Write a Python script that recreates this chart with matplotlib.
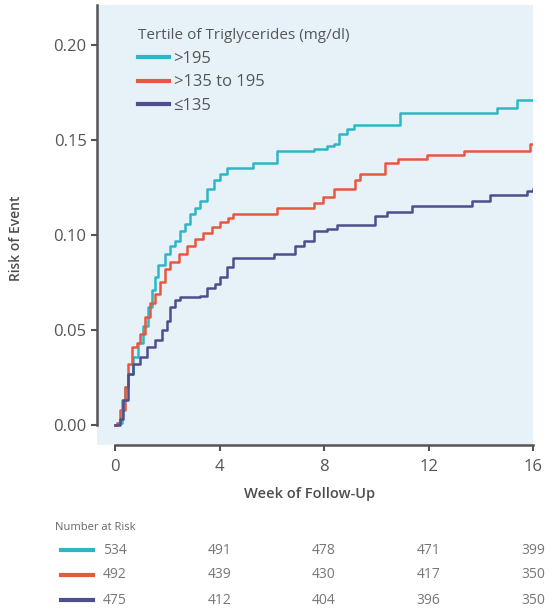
import numpy as np
import matplotlib
matplotlib.use("Agg")
import matplotlib.pyplot as plt
from matplotlib.transforms import blended_transform_factory


# Courbes de risque cumulé (pas), semaines / risque
weeks_high = [0, 0.07, 0.26, 0.38, 0.51, 0.70, 0.89, 1.09, 1.28, 1.40, 1.53, 1.66, 1.92,
              2.11, 2.30, 2.49, 2.68, 2.87, 3.07, 3.26, 3.51, 3.77, 4.02, 4.28, 5.3, 6.2,
              7.6, 8.1, 8.37, 8.56, 8.88, 9.13, 10.92, 14.62, 15.4, 16.0]
risk_high = [0.0, 0.001, 0.013, 0.020, 0.027, 0.036, 0.043, 0.052, 0.062, 0.071, 0.078,
             0.084, 0.090, 0.094, 0.097, 0.102, 0.106, 0.111, 0.114, 0.118, 0.124, 0.129,
             0.132, 0.135, 0.138, 0.144, 0.145, 0.147, 0.148, 0.153, 0.156, 0.158, 0.164,
             0.167, 0.171, 0.171]

weeks_mid = [0, 0.06, 0.19, 0.38, 0.51, 0.64, 0.83, 0.96, 1.15, 1.34, 1.53, 1.72, 1.92,
             2.11, 2.43, 2.75, 3.07, 3.38, 3.70, 4.02, 4.34, 4.53, 6.2, 7.6, 7.98, 8.37,
             9.2, 9.39, 10.34, 10.85, 11.94, 13.35, 15.9, 16.0]
risk_mid = [0.0, 0.001, 0.008, 0.020, 0.032, 0.041, 0.043, 0.048, 0.057, 0.064, 0.069,
            0.075, 0.082, 0.086, 0.090, 0.094, 0.098, 0.101, 0.104, 0.107, 0.109, 0.111,
            0.114, 0.117, 0.120, 0.124, 0.129, 0.132, 0.138, 0.140, 0.142, 0.144, 0.148,
            0.148]

weeks_low = [0, 0.19, 0.32, 0.51, 0.70, 0.96, 1.21, 1.53, 1.79, 1.98, 2.11, 2.30, 2.49,
             3.26, 3.51, 3.83, 4.02, 4.28, 4.53, 6.07, 6.9, 7.22, 7.6, 8.1, 8.49, 9.96,
             10.41, 11.37, 13.67, 14.37, 15.77, 16.0]
risk_low = [0.0, 0.003, 0.013, 0.027, 0.032, 0.036, 0.041, 0.045, 0.050, 0.055, 0.062,
            0.066, 0.0675, 0.068, 0.072, 0.074, 0.078, 0.083, 0.088, 0.090, 0.094, 0.097,
            0.102, 0.103, 0.105, 0.110, 0.112, 0.115, 0.118, 0.121, 0.123, 0.124]

labels = [">195", ">135 to 195", "≤135"]
colors = ["#2fb6c6", "#e8573f", "#4c4f8d"]

# Effectifs à risque
risk_weeks = [0, 4, 8, 12, 16]
at_risk_high = [534, 491, 478, 471, 399]
at_risk_mid = [492, 439, 430, 417, 350]
at_risk_low = [475, 412, 404, 396, 350]

plt.rcParams["font.family"] = ["Open Sans", "DejaVu Sans"]
txt = "#555555"

fig = plt.figure(figsize=(5.53, 6.09), dpi=100)
W, H = 553, 609
ax = fig.add_axes([97 / W, 1 - 445 / H, (533 - 97) / W, (445 - 5) / H])
ax.set_facecolor("#e7f2f8")

series = [(weeks_high, risk_high), (weeks_mid, risk_mid), (weeks_low, risk_low)]
for (x, y), lab, col in zip(series, labels, colors):
    ax.step(x, y, where="post", color=col, lw=1.8, label=lab)

ax.set_xlim(-0.69, 16.0)
ax.set_ylim(-0.0105, 0.221)
ax.set_xticks([0, 4, 8, 12, 16])
ax.set_yticks([0.0, 0.05, 0.10, 0.15, 0.20])
ax.set_yticklabels(["0.00", "0.05", "0.10", "0.15", "0.20"])

for s in ["top", "right"]:
    ax.spines[s].set_visible(False)
ax.spines["left"].set_bounds(0, 0.221)
ax.spines["bottom"].set_bounds(0, 16)
for s in ["left", "bottom"]:
    ax.spines[s].set_color("#555555")
    ax.spines[s].set_linewidth(1.8)
ax.tick_params(colors="#555555", labelcolor=txt, labelsize=12, width=1.5, length=4)
ax.tick_params(axis="x", pad=6)

leg = ax.legend(title="Tertile of Triglycerides (mg/dl)", loc="upper left",
                bbox_to_anchor=(0.078, 0.962), frameon=False, fontsize=12,
                title_fontsize=11, handlelength=1.9, handletextpad=0.25,
                labelspacing=0.45, borderaxespad=0, alignment="left")
for t in leg.get_texts():
    t.set_color(txt)
leg.get_title().set_color(txt)
for h in leg.get_lines():
    h.set_linewidth(3)

fig.text(16 / W, 1 - 238 / H, "Risk of Event", rotation=90, ha="center", va="center",
         fontsize=10, fontweight="semibold", color="#4d4d4d")
fig.text(310 / W, 1 - 494 / H, "Week of Follow-Up", ha="center", va="center",
         fontsize=10.5, fontweight="semibold", color="#4d4d4d")

# Tableau des effectifs sous l'axe
fig.text(55 / W, 1 - 528 / H, "Number at Risk", ha="left", va="center",
         fontsize=8, color="#666666")
tr = blended_transform_factory(ax.transData, fig.transFigure)
rows_y = [550, 575, 600]
for counts, col, py in zip([at_risk_high, at_risk_mid, at_risk_low], colors, rows_y):
    yf = 1 - py / H
    ax.plot([-2.08, -0.84], [yf, yf], transform=tr, color=col, lw=3, clip_on=False)
    ax.text(-0.46, yf, str(counts[0]), transform=tr, ha="left", va="center",
            fontsize=10, color="#777777")
    for wk, n in zip(risk_weeks[1:], counts[1:]):
        ax.text(wk, yf, str(n), transform=tr, ha="center", va="center",
                fontsize=10, color="#777777")

fig.savefig("out.png", dpi=100)
